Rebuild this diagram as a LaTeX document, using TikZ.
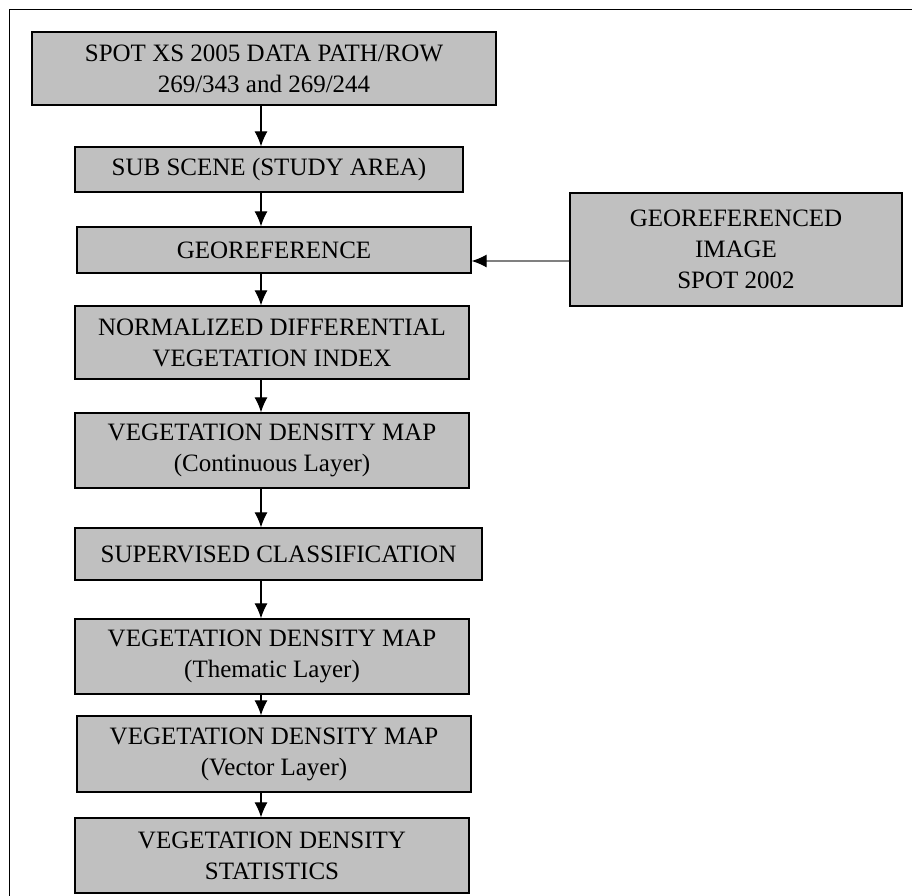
\documentclass[tikz,border=0pt]{standalone}
\usepackage{fontspec}
\setmainfont{Liberation Serif}
\usetikzlibrary{arrows.meta}

\definecolor{boxgray}{RGB}{192,192,192}

\begin{document}
\begin{tikzpicture}[x=1pt,y=-1pt,
    box/.style={draw,fill=boxgray,line width=1.3pt,inner sep=0pt,align=center,
      font=\fontsize{25}{31}\selectfont},
    flow/.style={line width=1.2pt,-{Latex[length=15pt,width=13pt]}}]
  \useasboundingbox (0,0) rectangle (912,895);
  \draw[line width=1pt] (9,9) rectangle (930,920);

  \coordinate (ax) at (261,0);
  \coordinate (ay) at (0,261);

  \node[box,minimum width=464,minimum height=73] (spot) at (264,68.5)
    {SPOT XS 2005 DATA PATH/ROW\\269/343 and 269/244};
  \node[box,minimum width=388,minimum height=45] (sub) at (269,169.5)
    {SUB SCENE (STUDY AREA)};
  \node[box,minimum width=394,minimum height=46] (georef) at (274,250)
    {GEOREFERENCE};
  \node[box,minimum width=394,minimum height=73] (ndvi) at (272,342.5)
    {NORMALIZED DIFFERENTIAL\\VEGETATION INDEX};
  \node[box,minimum width=394,minimum height=75] (vdmc) at (272,450.5)
    {VEGETATION DENSITY MAP\\(Continuous Layer)};
  \node[box,minimum width=407,minimum height=52] (sup) at (278.5,554)
    {SUPERVISED CLASSIFICATION};
  \node[box,minimum width=394,minimum height=75] (vdmt) at (272,656.5)
    {VEGETATION DENSITY MAP\\(Thematic Layer)};
  \node[box,minimum width=394,minimum height=76] (vdmv) at (274,754)
    {VEGETATION DENSITY MAP\\(Vector Layer)};
  \node[box,minimum width=394,minimum height=75] (stats) at (272,855.5)
    {VEGETATION DENSITY\\STATISTICS};

  \node[box,minimum width=332,minimum height=113] (geoimg) at (736,249.5)
    {GEOREFERENCED\\IMAGE\\SPOT 2002};

  % main flow
  \foreach \a/\b in {spot/sub,sub/georef,georef/ndvi,ndvi/vdmc,vdmc/sup,sup/vdmt,vdmt/vdmv,vdmv/stats}
    \draw[flow] (\a.south -| ax) -- (\b.north -| ax);

  % reference image
  \draw[line width=1.2pt,gray,-{Latex[length=15pt,width=13pt,black]}]
    (geoimg.west |- ay) -- (georef.east |- ay);
\end{tikzpicture}
\end{document}
